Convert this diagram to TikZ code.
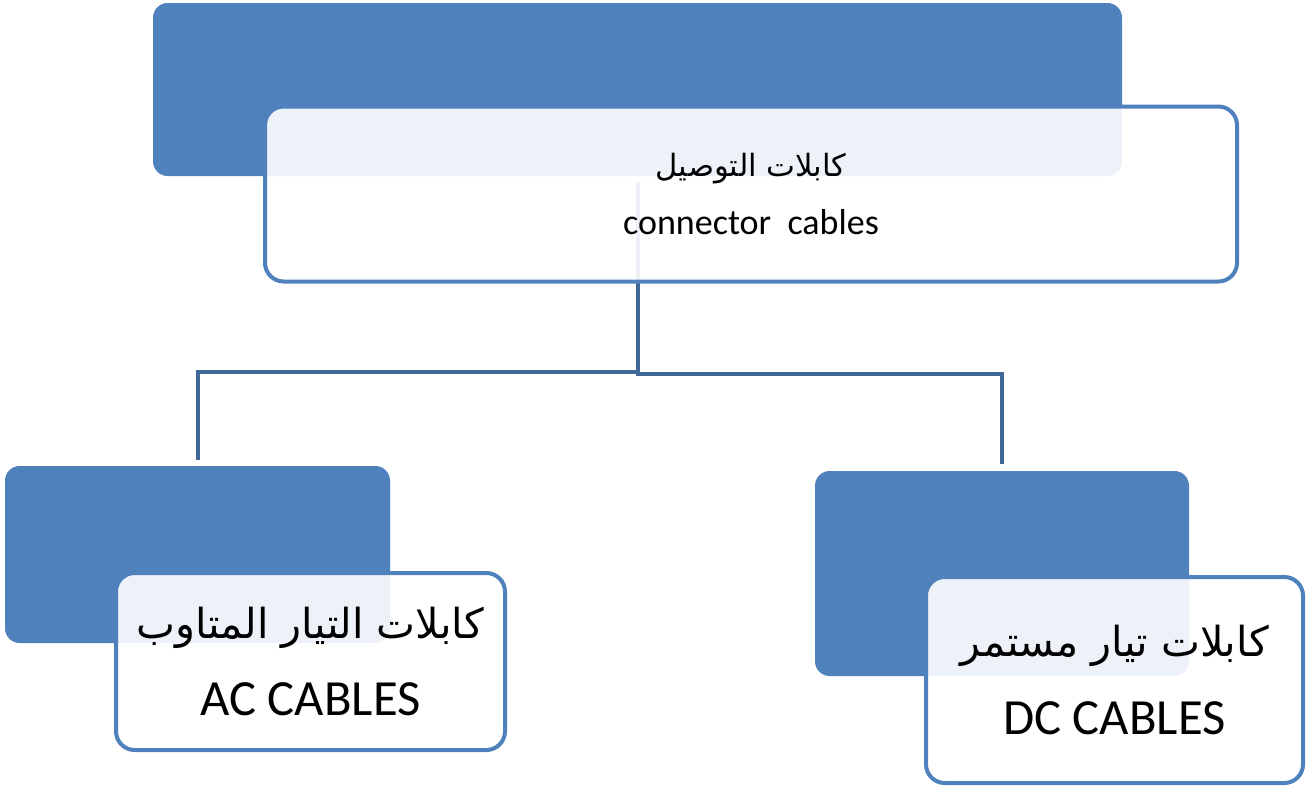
\documentclass[tikz,border=0pt]{standalone}
\usepackage{fontspec}
\setmainfont{Carlito}
\newfontfamily\arabicfont[Script=Arabic]{DejaVu Sans}
\TeXXeTstate=1
\definecolor{accent}{HTML}{4F81BD}
\definecolor{linkblue}{HTML}{3F6898}
\begin{document}
\begin{tikzpicture}[x=0.75pt,y=-0.75pt,
  back/.style 2 args={rectangle, rounded corners=11pt, fill=accent, draw=none,
    minimum width=#1*0.75pt, minimum height=#2*0.75pt, inner sep=0pt, outer sep=0pt},
  front/.style 2 args={rectangle, rounded corners=14pt, fill=white, fill opacity=0.9,
    text opacity=1, draw=accent, line width=3pt, align=center, text=black,
    minimum width=#1*0.75pt, minimum height=#2*0.75pt, inner sep=0pt, outer sep=0pt},
  small label/.style={font=\fontsize{27}{43}\selectfont},
  big label/.style={font=\fontsize{38}{58}\selectfont},
  link/.style={draw=linkblue, line width=3pt}]
\useasboundingbox (0,0) rectangle (1307,789);
\fill[white] (0,0) rectangle (1307,789);

% blue backing panels
\node[back={969}{173}] (topback) at (637.5,89.5) {};
\node[back={385}{177}] (acback) at (197.5,554.5) {};
\node[back={374}{205}] (dcback) at (1002,573.5) {};

% tree connectors
\draw[link, shorten <=5pt, shorten >=4.5pt] (topback.south) -- ++(0,196) -| (acback.north);
\draw[link, shorten <=5pt, shorten >=5pt] (topback.south) -- ++(0,198) -| (dcback.north);

% translucent label panels
\node[front={972}{175}, small label] (top) at (751,194)
  {{\arabicfont\fontsize{23}{23}\selectfont\beginR كابلات التوصيل\endR}\\ connector\ \ cables};
\node[front={389}{177}, big label] (ac) at (310.5,661.5)
  {{\arabicfont\fontsize{31}{31}\selectfont\beginR كابلات التيار المتاوب\endR}\\ AC CABLES};
\node[front={377}{206}, big label] (dc) at (1114.5,680)
  {{\arabicfont\fontsize{31}{31}\selectfont\beginR كابلات تيار مستمر\endR}\\ DC CABLES};
\end{tikzpicture}
\end{document}
